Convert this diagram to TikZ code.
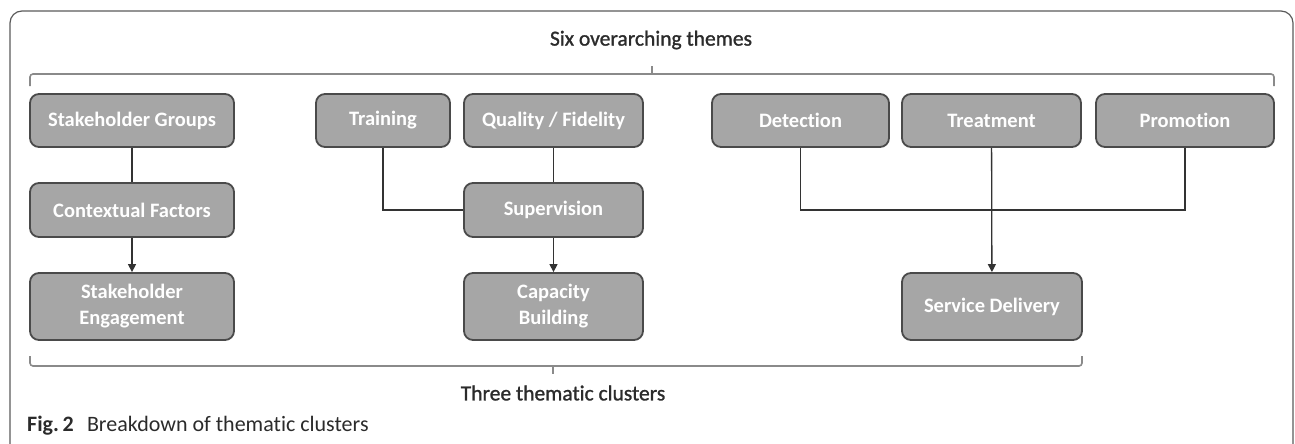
\documentclass[tikz,border=0pt]{standalone}
\usepackage{fontspec}
\setmainfont[Ligatures=NoCommon]{Carlito}
\newfontfamily\headfont[Ligatures=NoCommon,FakeBold=1.2]{Carlito}
\usetikzlibrary{arrows.meta}
\definecolor{boxfill}{HTML}{A6A6A6}
\definecolor{boxline}{HTML}{4A4A4A}
\definecolor{linkc}{HTML}{333333}
\definecolor{bracec}{HTML}{8A8A8A}
\definecolor{framec}{HTML}{5A5A5A}
\definecolor{textc}{HTML}{2B2B2B}
\begin{document}
\begin{tikzpicture}[x=1pt,y=-1pt,
  box/.style={draw=boxline, fill=boxfill, line width=1.8pt, rounded corners=9pt,
    text=white, font=\fontsize{20.5}{26}\selectfont\bfseries, align=center, inner sep=0pt},
  link/.style={draw=linkc, line width=1.3pt},
  arr/.style={link, -{Triangle[length=8pt,width=8pt]}},
  brace/.style={draw=bracec, line width=1.6pt, rounded corners=3pt},
  label/.style={text=textc, font=\headfont\fontsize{21.5}{26}\selectfont, inner sep=0pt},
]
\useasboundingbox (0,0) rectangle (1295,444);
% frame
\draw[framec, line width=1.2pt, rounded corners=12pt] (10,452) -- (10,11) -- (1293,11) -- (1293,452);

% headings
\node[label] (six) at (651,40) {Six overarching themes};
\node[label] (three) at (563,393) {Three thematic clusters};
\node[text=textc, inner sep=0pt, anchor=west, font=\fontsize{22}{26}\selectfont] (cap) at (27,426)
  {\textbf{Fig.\,2}\hspace{0.6em}Breakdown of thematic clusters};

% brackets
\coordinate (tbl) at (30,86);
\coordinate (tbr) at (1274,86);
\coordinate (tbm) at (652,74);
\coordinate (tbt) at (652,66);
\draw[brace] (tbl) -- (30,74) -- (1274,74) -- (tbr);
\draw[draw=bracec, line width=1.4pt] (tbm) -- (tbt);
\coordinate (bbl) at (30,356);
\coordinate (bbr) at (1082,356);
\coordinate (bbm) at (553,366);
\coordinate (bbt) at (553,374);
\draw[brace] (bbl) -- (30,366) -- (1082,366) -- (bbr);
\draw[draw=bracec, line width=1.4pt] (bbm) -- (bbt);

% cluster 1
\node[box, minimum width=204pt, minimum height=53pt] (sg) at (132,120.5) {Stakeholder Groups};
\node[box, minimum width=204pt, minimum height=54pt] (cf) at (132,210) {Contextual Factors};
\node[box, minimum width=204pt, minimum height=67pt] (se) at (132,306.5) {Stakeholder\\Engagement};

% cluster 2
\node[box, minimum width=134pt, minimum height=53pt] (tr) at (383,120.5) {Training};
\node[box, minimum width=179pt, minimum height=53pt] (qf) at (553.5,120.5) {Quality / Fidelity};
\node[box, minimum width=179pt, minimum height=54pt] (su) at (553.5,210) {Supervision};
\node[box, minimum width=179pt, minimum height=67pt] (cb) at (553.5,306.5) {Capacity\\Building};

% cluster 3
\node[box, minimum width=177pt, minimum height=53pt] (de) at (800.5,120.5) {Detection};
\node[box, minimum width=179pt, minimum height=53pt] (tm) at (991.5,120.5) {Treatment};
\node[box, minimum width=178pt, minimum height=53pt] (pr) at (1185,120.5) {Promotion};
\node[box, minimum width=180pt, minimum height=67pt] (sd) at (992,306.5) {Service Delivery};

% connectors
\draw[link] (sg) -- (cf);
\draw[arr] (cf) -- (se);
\draw[link] (tr.south) |- (su.west);
\draw[link] (qf) -- (su);
\draw[arr] (su) -- (cb);
\draw[link] (de.south) |- (pr.south |- su.west) -- (pr.south);
\draw[arr] (tm) -- (sd);
\end{tikzpicture}
\end{document}
